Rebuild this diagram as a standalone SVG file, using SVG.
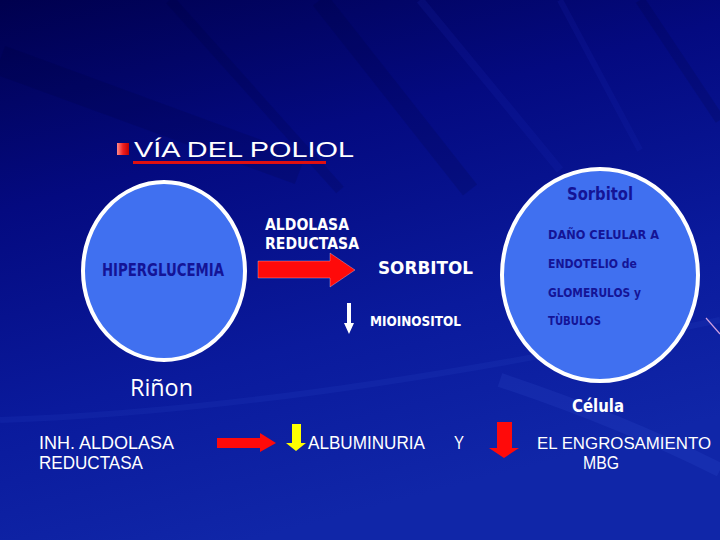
<svg xmlns="http://www.w3.org/2000/svg" width="720" height="540" viewBox="0 0 720 540">
<defs>
<linearGradient id="bg" x1="0" y1="0" x2="0.35" y2="1">
<stop offset="0" stop-color="#00004e"/>
<stop offset="0.35" stop-color="#040a80"/>
<stop offset="0.7" stop-color="#0a1a9c"/>
<stop offset="1" stop-color="#1026a8"/>
</linearGradient>
<linearGradient id="bullet" x1="0" y1="0" x2="1" y2="0">
<stop offset="0" stop-color="#ff8a8a"/>
<stop offset="0.5" stop-color="#f02020"/>
<stop offset="1" stop-color="#c00000"/>
</linearGradient>
<style>
.circ{fill:#4070f0;stroke:#ffffff;stroke-width:4}
.w{fill:#ffffff;font-family:"Liberation Sans",Arial,sans-serif}
.c{fill:#ffffff;font-family:"DejaVu Sans",sans-serif;font-weight:bold}
.d{fill:#141496;font-family:"DejaVu Sans",sans-serif;font-weight:bold}
.red{fill:#ff0a0a}
</style>
</defs>
<rect width="720" height="540" fill="url(#bg)"/>
<g opacity="0.14" fill="none">
<path d="M170 0 L340 190" stroke="#000030" stroke-width="10"/>
<path d="M320 0 L470 190" stroke="#000030" stroke-width="18"/>
<path d="M420 0 L560 170" stroke="#2030c0" stroke-width="8"/>
<path d="M560 0 L640 150" stroke="#2030c0" stroke-width="6"/>
<path d="M640 0 L720 120" stroke="#000030" stroke-width="10"/>
<path d="M0 60 L300 170" stroke="#000030" stroke-width="30"/>
<path d="M500 380 Q620 420 720 470" stroke="#4060e0" stroke-width="14"/>
<path d="M0 420 Q300 410 720 320" stroke="#3050d0" stroke-width="6"/>
</g>
<line x1="706" y1="318" x2="720" y2="334" stroke="#d0a0e0" stroke-width="1.2"/>

<g id="title">
<rect x="117" y="143" width="12" height="12" fill="url(#bullet)"/>
<text class="w" x="134" y="157" font-size="22" textLength="220" lengthAdjust="spacingAndGlyphs">VÍA DEL POLIOL</text>
<rect x="133" y="161" width="193" height="3" fill="#e01010"/>
</g>

<g id="hiperglucemia">
<ellipse class="circ" cx="164" cy="271" rx="81" ry="89"/>
<text class="d" x="102" y="276" font-size="17" textLength="122" lengthAdjust="spacingAndGlyphs">HIPERGLUCEMIA</text>
</g>

<g id="celula">
<ellipse class="circ" cx="600" cy="275" rx="98" ry="106"/>
<text class="d" x="567" y="200" font-size="18" font-weight="normal" textLength="66" lengthAdjust="spacingAndGlyphs">Sorbitol</text>
<text class="d" x="548" y="239" font-size="13" textLength="111" lengthAdjust="spacingAndGlyphs">DAÑO  CELULAR  A</text>
<text class="d" x="548" y="268" font-size="13" textLength="89" lengthAdjust="spacingAndGlyphs">ENDOTELIO  de</text>
<text class="d" x="548" y="297" font-size="13" textLength="93" lengthAdjust="spacingAndGlyphs">GLOMERULOS  y</text>
<text class="d" x="548" y="325" font-size="13" textLength="53" lengthAdjust="spacingAndGlyphs">TÙBULOS</text>
</g>

<g id="aldolasa">
<text class="c" x="265" y="230" font-size="15" textLength="84" lengthAdjust="spacingAndGlyphs">ALDOLASA</text>
<text class="c" x="265" y="249" font-size="15" textLength="94" lengthAdjust="spacingAndGlyphs">REDUCTASA</text>
</g>

<g id="sorbitol">
<text class="c" x="378" y="274" font-size="17" font-weight="normal" textLength="95" lengthAdjust="spacingAndGlyphs">SORBITOL</text>
</g>

<g id="mioinositol">
<text class="c" x="370" y="326" font-size="14" font-weight="normal" textLength="91" lengthAdjust="spacingAndGlyphs">MIOINOSITOL</text>
</g>

<g id="rinon">
<text x="130" y="396" font-size="23" fill="#ffffff" textLength="63" lengthAdjust="spacingAndGlyphs" style="font-family:'Open Sans',sans-serif">Riñon</text>
</g>
<g id="celula-label">
<text class="c" x="572" y="412" font-size="18" textLength="52" lengthAdjust="spacingAndGlyphs">Célula</text>
</g>

<g id="inh">
<text class="w" x="39" y="449" font-size="19" textLength="135" lengthAdjust="spacingAndGlyphs">INH. ALDOLASA</text>
<text class="w" x="39" y="469" font-size="19" textLength="104" lengthAdjust="spacingAndGlyphs">REDUCTASA</text>
</g>
<g id="albuminuria">
<text class="w" x="308" y="449" font-size="19" textLength="117" lengthAdjust="spacingAndGlyphs">ALBUMINURIA</text>
</g>
<g id="y">
<text class="w" x="454" y="449" font-size="19" textLength="10" lengthAdjust="spacingAndGlyphs">Y</text>
</g>
<g id="engrosamiento">
<text class="w" x="537" y="449" font-size="17" textLength="174" lengthAdjust="spacingAndGlyphs">EL ENGROSAMIENTO</text>
<text class="w" x="583" y="469" font-size="19" textLength="36" lengthAdjust="spacingAndGlyphs">MBG</text>
</g>

<g id="connectors">
<polygon class="red" points="258,261 330,261 330,253 355,270 330,287 330,278 258,278" stroke="#ffffff" stroke-width="0.6" stroke-opacity="0.5"/>
<polygon fill="#ffffff" points="347,303 351,303 351,323 354,323 349,334 344,323 347,323"/>
<polygon class="red" points="217,438 260,438 260,433 276,443 260,452 260,448 217,448"/>
<polygon fill="#ffff00" points="292,424 301,424 301,443 306,443 296,451 286,443 292,443"/>
<polygon class="red" points="497,422 512,422 512,448 519,448 504,458 489,448 497,448"/>
</g>
</svg>
